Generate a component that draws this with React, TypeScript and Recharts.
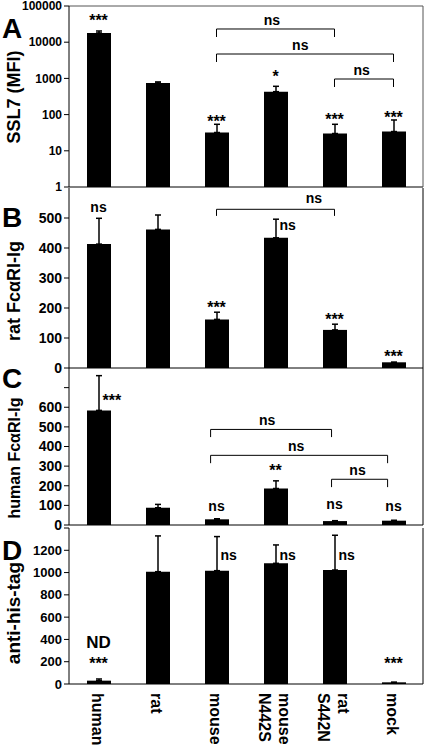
import React from "react"
import { BarChart, Bar, XAxis, YAxis, ErrorBar, ReferenceLine, ReferenceDot } from "recharts"

const FONT = "'Liberation Sans', Arial, Helvetica, sans-serif"

const categories = ["human", "rat", "mouse", "mouse N442S", "rat S442N", "mock"]

// A: SSL7 (MFI), log scale
const ssl7Values = [18000, 750, 32, 430, 30, 34]
const ssl7Errors = [2400, 50, 22, 175, 24, 37]
const ssl7Ticks = [1, 10, 100, 1000, 10000, 100000]

// B: rat FcaRI-Ig
const ratValues = [413, 462, 162, 434, 127, 19]
const ratErrors = [86, 48, 24, 62, 19, 0]
const ratTicks = [0, 100, 200, 300, 400, 500]

// C: human FcaRI-Ig
const humanValues = [584, 88, 29, 186, 20, 22]
const humanErrors = [177, 17, 3, 39, 2, 2]
const humanTicks = [0, 100, 200, 300, 400, 500, 600, 700]

// D: anti-his-tag
const hisValues = [30, 1008, 1017, 1083, 1023, 15]
const hisErrors = [15, 321, 306, 165, 312, 0]
const hisTicks = [0, 200, 400, 600, 800, 1000, 1200, 1400]

const unlabeledTicks = [700, 1400]

type Note = { at: number; text: string; y: number; side?: "right" }
type Bracket = { from: number; to: number; y: number; drop: number; labelAt: number }

// significance marks, y = baseline in data units
const ssl7Notes: Note[] = [
  { at: 0, text: "***", y: 28900 },
  { at: 2, text: "***", y: 45 },
  { at: 3, text: "*", y: 821 },
  { at: 4, text: "***", y: 50 },
  { at: 5, text: "***", y: 60 },
]
const ratNotes: Note[] = [
  { at: 0, text: "ns", y: 520 },
  { at: 2, text: "***", y: 185 },
  { at: 3, text: "ns", y: 459, side: "right" },
  { at: 4, text: "***", y: 143 },
  { at: 5, text: "***", y: 20 },
]
const humanNotes: Note[] = [
  { at: 0, text: "***", y: 604, side: "right" },
  { at: 2, text: "ns", y: 71 },
  { at: 3, text: "**", y: 251 },
  { at: 4, text: "ns", y: 83 },
  { at: 5, text: "ns", y: 73 },
]
const hisNotes: Note[] = [
  { at: 0, text: "ND", y: 327 },
  { at: 0, text: "***", y: 133 },
  { at: 2, text: "ns", y: 1113, side: "right" },
  { at: 3, text: "ns", y: 1113, side: "right" },
  { at: 4, text: "ns", y: 1113, side: "right" },
  { at: 5, text: "***", y: 133 },
]

const ssl7Brackets: Bracket[] = [
  { from: 2.5, to: 4.5, y: 23170, drop: 13930, labelAt: 3.44 },
  { from: 2.5, to: 5.5, y: 4720, drop: 2840, labelAt: 3.92 },
  { from: 4.5, to: 5.5, y: 962, drop: 579, labelAt: 4.96 },
]
const ratBrackets: Bracket[] = [{ from: 2.5, to: 4.5, y: 529, drop: 507, labelAt: 4.15 }]
const humanBrackets: Bracket[] = [
  { from: 2.4, to: 4.45, y: 487, drop: 448, labelAt: 3.36 },
  { from: 2.4, to: 5.4, y: 355, drop: 315, labelAt: 3.85 },
  { from: 4.45, to: 5.4, y: 233, drop: 193, labelAt: 4.89 },
]

const centers = categories.map((_, i) => i + 0.5)
const bounds = categories.slice(1).map((_, i) => i + 1)

function table(values: number[], errors: number[]) {
  return categories.map((name, i) => ({ name, pos: i + 0.5, value: values[i], err: [0, errors[i]] }))
}

function noteSize(text: string) {
  if (text === "ND") return 17
  if (text.startsWith("*")) return 16
  return 14
}

const textAt = (text: string, side?: "right", dy = 0) => (props: any) => {
  const vb = props.viewBox || {}
  const right = side === "right"
  return (
    <text
      x={right ? vb.x + 4 : vb.x}
      y={vb.y + dy}
      textAnchor={right ? "start" : "middle"}
      fontSize={noteSize(text)}
      fontWeight="bold"
      fontFamily={FONT}
      fill="#000"
    >
      {text}
    </text>
  )
}

function NameTick(props: any) {
  const { x, y, payload } = props
  const lines = categories[Math.round(payload.value - 0.5)].split(" ")
  const first = -((lines.length - 1) * 20) / 2 + 1.5
  return (
    <g transform={`translate(${x},${y}) rotate(90)`}>
      {lines.map((line, k) => (
        <text
          key={k}
          x={0}
          y={first + k * 20}
          dominantBaseline="central"
          textAnchor="start"
          fontSize={16}
          fontWeight="bold"
          fontFamily={FONT}
          fill="#000"
        >
          {line}
        </text>
      ))}
    </g>
  )
}

interface PanelProps {
  top: number
  height: number
  margin: { top: number; right: number; bottom: number; left: number }
  values: number[]
  errors: number[]
  ticks: number[]
  domain: [number, number]
  log?: boolean
  tickFont: number
  notes: Note[]
  brackets?: Bracket[]
  bracketGap?: number
  frameTop?: boolean
  frameColor?: string
  showNames?: boolean
}

function Panel(p: PanelProps) {
  const data = table(p.values, p.errors)
  const gap = p.bracketGap ?? 4
  return (
    <div style={{ position: "absolute", left: 0, top: p.top, width: 425, height: p.height }}>
      <BarChart width={425} height={p.height} data={data} margin={p.margin}>
        <XAxis
          dataKey="pos"
          type="number"
          domain={[0, 6]}
          ticks={bounds}
          interval={0}
          allowDataOverflow
          height={1}
          tickSize={6}
          tick={false}
          axisLine={{ stroke: "#000" }}
          tickLine={{ stroke: "#000" }}
        />
        {p.showNames && (
          <XAxis
            xAxisId="names"
            dataKey="pos"
            type="number"
            domain={[0, 6]}
            ticks={centers}
            interval={0}
            allowDataOverflow
            height={1}
            axisLine={false}
            tickLine={false}
            tickSize={0}
            tickMargin={8}
            tick={<NameTick />}
          />
        )}
        {p.frameTop && (
          <XAxis
            xAxisId="top"
            orientation="top"
            type="number"
            domain={[0, 6]}
            allowDataOverflow
            height={1}
            tick={false}
            tickLine={false}
            axisLine={{ stroke: p.frameColor ?? "#000" }}
          />
        )}
        <YAxis
          width={69}
          type="number"
          scale={p.log ? "log" : "auto"}
          domain={p.domain}
          ticks={p.ticks}
          interval={0}
          allowDataOverflow
          tickSize={5}
          tickMargin={2}
          axisLine={{ stroke: "#000" }}
          tickLine={{ stroke: "#000" }}
          tickFormatter={(v: number) => (unlabeledTicks.includes(v) ? "" : String(v))}
          tick={{ fontSize: p.tickFont, fontWeight: "bold", fill: "#000", fontFamily: FONT }}
        />
        <YAxis
          yAxisId="frame"
          orientation="right"
          type="number"
          domain={[0, 1]}
          allowDataOverflow
          width={1}
          tick={false}
          tickLine={false}
          axisLine={{ stroke: p.frameColor ?? "#000" }}
        />
        <Bar dataKey="value" fill="#000" barSize={24} isAnimationActive={false}>
          <ErrorBar dataKey="err" direction="y" width={3} stroke="#000" strokeWidth={1.5} isAnimationActive={false} />
        </Bar>
        {(p.brackets ?? []).flatMap((b, k) => [
          <ReferenceLine key={`h${k}`} segment={[{ x: b.from, y: b.y }, { x: b.to, y: b.y }]} stroke="#000" strokeWidth={1} />,
          <ReferenceLine key={`l${k}`} segment={[{ x: b.from, y: b.y }, { x: b.from, y: b.drop }]} stroke="#000" strokeWidth={1} />,
          <ReferenceLine key={`r${k}`} segment={[{ x: b.to, y: b.y }, { x: b.to, y: b.drop }]} stroke="#000" strokeWidth={1} />,
          <ReferenceDot key={`t${k}`} x={b.labelAt} y={b.y} r={0} fill="none" stroke="none" label={textAt("ns", undefined, -gap)} />,
        ])}
        {p.notes.map((n, k) => (
          <ReferenceDot
            key={`n${k}`}
            x={n.at + 0.5}
            y={n.y}
            r={0}
            fill="none"
            stroke="none"
            label={textAt(n.text, n.side)}
          />
        ))}
      </BarChart>
    </div>
  )
}

const panelLetters = [
  { text: "A", y: 38 },
  { text: "B", y: 227 },
  { text: "C", y: 388 },
  { text: "D", y: 560 },
]
const axisTitles = [
  { text: "SSL7 (MFI)", y: 97, size: 18 },
  { text: "rat FcαRI-Ig", y: 291, size: 18 },
  { text: "human FcαRI-Ig", y: 458, size: 16 },
  { text: "anti-his-tag", y: 613, size: 19 },
]

export default function App() {
  return (
    <div style={{ position: "absolute", left: 0, top: 0, width: 425, height: 749, background: "#fff", fontFamily: FONT }}>
      <Panel
        top={0}
        height={200}
        margin={{ top: 5, right: 1, bottom: 12, left: 0 }}
        values={ssl7Values}
        errors={ssl7Errors}
        ticks={ssl7Ticks}
        domain={[1, 100000]}
        log
        tickFont={12}
        notes={ssl7Notes}
        brackets={ssl7Brackets}
        frameTop
        frameColor="#555"
      />
      <Panel
        top={180}
        height={200}
        margin={{ top: 8, right: 1, bottom: 11, left: 0 }}
        values={ratValues}
        errors={ratErrors}
        ticks={ratTicks}
        domain={[0, 600]}
        tickFont={14}
        notes={ratNotes}
        brackets={ratBrackets}
        bracketGap={6}
      />
      <Panel
        top={360}
        height={180}
        margin={{ top: 8, right: 1, bottom: 14, left: 0 }}
        values={humanValues}
        errors={humanErrors}
        ticks={humanTicks}
        domain={[0, 800]}
        tickFont={14}
        notes={humanNotes}
        brackets={humanBrackets}
      />
      <Panel
        top={520}
        height={229}
        margin={{ top: 8, right: 1, bottom: 63, left: 0 }}
        values={hisValues}
        errors={hisErrors}
        ticks={hisTicks}
        domain={[0, 1400]}
        tickFont={13}
        notes={hisNotes}
        showNames
      />
      <svg width={425} height={749} style={{ position: "absolute", left: 0, top: 0, pointerEvents: "none" }}>
        {panelLetters.map((l) => (
          <text key={l.text} x={2} y={l.y} fontSize={28} fontWeight="bold" fontFamily={FONT} fill="#000">
            {l.text}
          </text>
        ))}
        {axisTitles.map((t) => (
          <text
            key={t.text}
            transform={`translate(20,${t.y}) rotate(-90)`}
            textAnchor="middle"
            fontSize={t.size}
            fontWeight="bold"
            fontFamily={FONT}
            fill="#000"
          >
            {t.text}
          </text>
        ))}
      </svg>
    </div>
  )
}
